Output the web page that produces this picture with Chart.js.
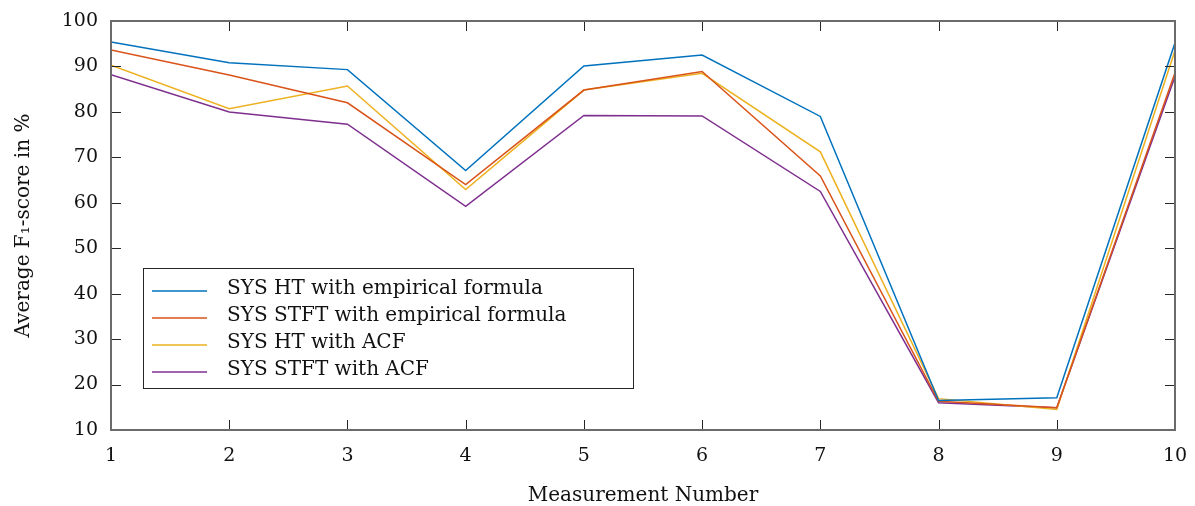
<!DOCTYPE html>
<html>
<head>
<meta charset="utf-8">
<script src="https://cdn.jsdelivr.net/npm/chart.js@4/dist/chart.umd.min.js"></script>
<style>
  html, body { margin: 0; padding: 0; background: #fff; }
  #wrap { width: 1195px; height: 506px; position: relative; }
</style>
</head>
<body>
<div id="wrap"><canvas id="chart"></canvas></div>
<script>
// Messpunkte und Reihen
const measurements = [1, 2, 3, 4, 5, 6, 7, 8, 9, 10];
const yTicks = [10, 20, 30, 40, 50, 60, 70, 80, 90, 100];

const htEmpirical   = [95.4, 90.8, 89.3, 67.1, 90.1, 92.5, 79.0, 16.5, 17.1, 95.2];
const stftEmpirical = [93.6, 88.1, 82.0, 64.0, 84.8, 88.9, 65.9, 16.3, 14.9, 88.6];
const htAcf         = [90.3, 80.7, 85.7, 62.9, 84.8, 88.5, 71.2, 16.9, 14.5, 93.5];
const stftAcf       = [88.2, 80.0, 77.3, 59.2, 79.2, 79.1, 62.5, 16.0, 14.9, 87.8];

const seriesNames = [
  "SYS HT with empirical formula",
  "SYS STFT with empirical formula",
  "SYS HT with ACF",
  "SYS STFT with ACF"
];
const seriesColors = ["#0072BD", "#D95319", "#EDB120", "#7E2F8E"];

const FONT = "'DejaVu Serif', 'Liberation Serif', serif";
Chart.defaults.font.family = FONT;
Chart.defaults.color = "#111";

function toPoints(values) {
  return values.map((v, i) => ({ x: measurements[i], y: v }));
}

// Rahmen, nach innen zeigende Ticks und Legende im Diagramm
const framePlugin = {
  id: "frame",
  afterDraw(chart) {
    const ctx = chart.ctx;
    const a = chart.chartArea;
    const xs = chart.scales.x;
    const ys = chart.scales.y;
    ctx.save();
    ctx.strokeStyle = "#262626";
    ctx.lineWidth = 1;
    const tl = 10;
    ctx.beginPath();
    measurements.forEach(m => {
      const px = Math.round(xs.getPixelForValue(m)) + 0.5;
      ctx.moveTo(px, a.bottom); ctx.lineTo(px, a.bottom - tl);
      ctx.moveTo(px, a.top); ctx.lineTo(px, a.top + tl);
    });
    yTicks.forEach(t => {
      const py = Math.round(ys.getPixelForValue(t)) + 0.5;
      ctx.moveTo(a.left, py); ctx.lineTo(a.left + tl, py);
      ctx.moveTo(a.right, py); ctx.lineTo(a.right - tl, py);
    });
    ctx.stroke();
    ctx.strokeStyle = "#6b6b6b";
    ctx.lineWidth = 2;
    ctx.strokeRect(a.left, a.top, a.right - a.left, a.bottom - a.top);

    // Legende
    const bx = a.left + 32, by = a.top + 247, bw = 490, bh = 120;
    ctx.fillStyle = "#fff";
    ctx.fillRect(bx, by, bw, bh);
    ctx.strokeStyle = "#262626";
    ctx.lineWidth = 1;
    ctx.strokeRect(bx + 0.5, by + 0.5, bw, bh);
    ctx.font = "20px " + FONT;
    ctx.textBaseline = "middle";
    chart.data.datasets.forEach((ds, i) => {
      const ry = by + 21 + i * 27;
      ctx.strokeStyle = ds.borderColor;
      ctx.lineWidth = 1.5;
      ctx.beginPath();
      ctx.moveTo(bx + 9, ry + 2);
      ctx.lineTo(bx + 64, ry + 2);
      ctx.stroke();
      ctx.fillStyle = "#111";
      ctx.fillText(ds.label, bx + 84, ry);
    });
    ctx.restore();
  }
};

new Chart(document.getElementById("chart"), {
  type: "line",
  data: {
    datasets: [htEmpirical, stftEmpirical, htAcf, stftAcf].map((vals, i) => ({
      label: seriesNames[i],
      data: toPoints(vals),
      borderColor: seriesColors[i],
      backgroundColor: seriesColors[i],
      borderWidth: 1.5,
      pointRadius: 0,
      tension: 0,
      fill: false
    }))
  },
  options: {
    responsive: true,
    maintainAspectRatio: false,
    animation: false,
    layout: { padding: { left: 0, right: 20, top: 21, bottom: 0 } },
    plugins: {
      legend: { display: false },
      tooltip: { enabled: false }
    },
    scales: {
      x: {
        type: "linear",
        min: 1,
        max: 10,
        afterFit: s => { s.height = 76; s.paddingLeft = 0; s.paddingRight = 0; },
        afterBuildTicks: s => { s.ticks = measurements.map(v => ({ value: v })); },
        grid: { display: false, drawTicks: false },
        border: { display: false },
        ticks: { font: { size: 19 }, padding: 15, maxRotation: 0 },
        title: {
          display: true,
          text: "Measurement Number",
          font: { size: 20, lineHeight: 1 },
          padding: { top: 4, bottom: 0 }
        }
      },
      y: {
        min: 10,
        max: 100,
        afterFit: s => { s.width = 111; s.paddingTop = 0; s.paddingBottom = 0; },
        afterBuildTicks: s => { s.ticks = yTicks.map(v => ({ value: v })); },
        grid: { display: false, drawTicks: false },
        border: { display: false },
        ticks: { font: { size: 19 }, padding: 13 },
        title: {
          display: true,
          text: "Average F\u2081-score in %",
          font: { size: 20 },
          padding: { bottom: 0, top: 12 }
        }
      }
    }
  },
  plugins: [framePlugin]
});
</script>
</body>
</html>
